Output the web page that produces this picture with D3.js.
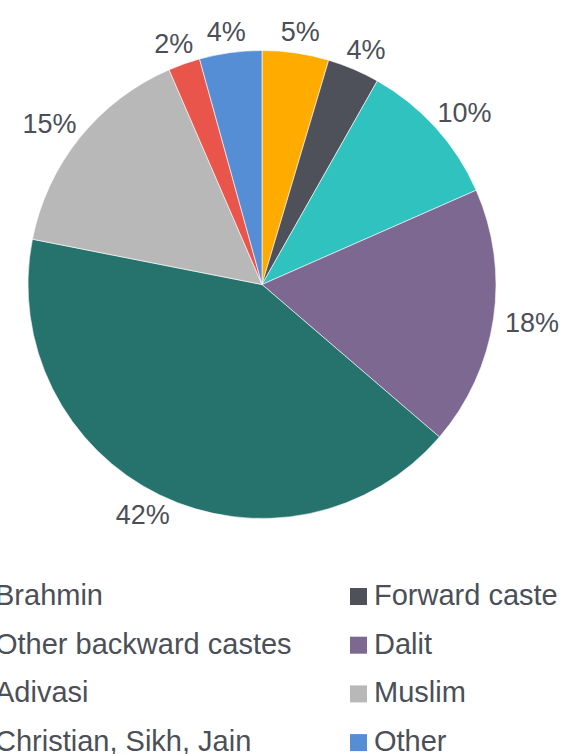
<!DOCTYPE html>
<html>
<head>
<meta charset="utf-8">
<script src="https://cdn.jsdelivr.net/npm/d3@7"></script>
<style>
  html, body { margin: 0; padding: 0; background: #fff; overflow: hidden; }
  svg { display: block; }
  text { font-family: "Liberation Sans", Arial, Helvetica, sans-serif; fill: #4b4f58; }
</style>
</head>
<body>
<svg id="chart" width="563" height="754"></svg>
<script>
// Data
const categories = ["Brahmin", "Forward caste", "Other backward castes", "Dalit",
                    "Adivasi", "Muslim", "Christian, Sikh, Jain", "Other"];
const shares = [4.6, 3.6, 10.2, 17.9, 41.8, 15.4, 2.2, 4.3];
const colors = ["#ffab00", "#4e5159", "#2fc2be", "#7d6892",
                "#26736e", "#b8b8b8", "#e9554a", "#558ed5"];

const W = 563, H = 754;
const cx = 262, cy = 284.5, R = 234;
const fontSize = 29, pctSize = 27;

const svg = d3.select("#chart");
const data = categories.map((c, i) => ({ cat: c, value: shares[i], color: colors[i] }));

const pie = d3.pie().value(d => d.value).sort(null);
const arcs = pie(data);
const arc = d3.arc().innerRadius(0).outerRadius(R);

const g = svg.append("g").attr("transform", `translate(${cx},${cy})`);
g.selectAll("path.slice")
  .data(arcs)
  .join("path")
  .attr("class", "slice")
  .attr("d", arc)
  .attr("fill", d => d.data.color)
  .attr("stroke", "#ffffff")
  .attr("stroke-width", 0.6);

// Percentage labels outside
const labelR = R + 12;
const lbl = g.selectAll("text.pct")
  .data(arcs)
  .join("text")
  .attr("class", "pct")
  .attr("font-size", pctSize)
  .attr("text-anchor", "middle")
  .attr("dy", "0.35em")
  .text(d => Math.round(d.data.value) + "%");

lbl.each(function(d) {
  const a = (d.startAngle + d.endAngle) / 2;
  const w = this.getComputedTextLength();
  const h = pctSize * 0.72;
  const sx = Math.sin(a), sy = -Math.cos(a);
  const x = labelR * sx + sx * w / 2;
  const y = labelR * sy + sy * h / 2;
  d3.select(this).attr("x", x).attr("y", y);
});

// Legend: two columns
const colX = [-29, 350];
const rowY0 = 605, rowStep = 48.7;
const sq = 17;
const leg = svg.append("g").attr("class", "legend");
const items = leg.selectAll("g.item")
  .data(data)
  .join("g")
  .attr("class", "item")
  .attr("transform", (d, i) => `translate(${colX[i % 2]},${rowY0 + Math.floor(i / 2) * rowStep})`);
items.append("rect")
  .attr("x", 0).attr("y", -sq)
  .attr("width", sq).attr("height", sq)
  .attr("fill", d => d.color);
items.append("text")
  .attr("x", sq + 7).attr("y", 0)
  .attr("font-size", fontSize)
  .text(d => d.cat);
</script>
</body>
</html>
